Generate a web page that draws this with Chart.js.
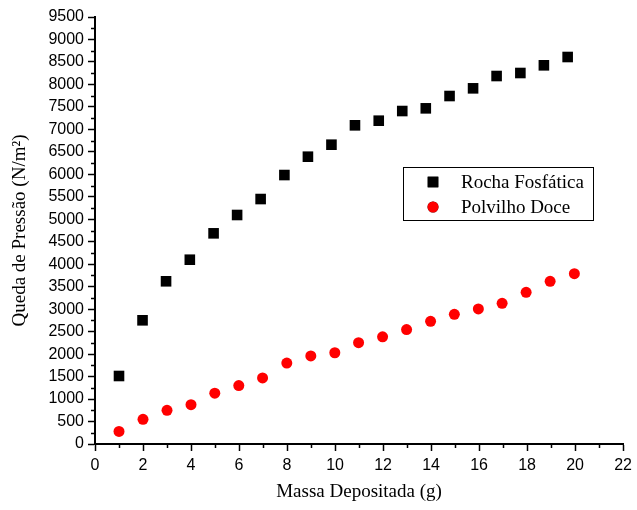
<!DOCTYPE html>
<html>
<head>
<meta charset="utf-8">
<script src="https://cdn.jsdelivr.net/npm/chart.js@4/dist/chart.umd.min.js"></script>
<style>
    html, body { margin: 0; padding: 0; background: #fff; }
    #wrap { position: relative; width: 637px; height: 510px; }
</style>
</head>
<body>
<div id="wrap"><canvas id="pressureChart"></canvas></div>
<script>
    // Rocha Fosfática
    const rochaMassa = [1.0, 1.98, 2.96, 3.95, 4.94, 5.92, 6.9, 7.89, 8.87, 9.85, 10.83, 11.82, 12.8, 13.78, 14.77, 15.75, 16.73, 17.72, 18.7, 19.69];
    const rochaQueda = [1513, 2752, 3620, 4100, 4687, 5095, 5450, 5984, 6392, 6659, 7090, 7193, 7408, 7468, 7742, 7913, 8187, 8254, 8425, 8610];

    // Polvilho Doce
    const polvilhoMassa = [1.0, 2.0, 3.0, 4.0, 4.99, 5.99, 6.98, 7.99, 8.99, 9.99, 10.98, 11.98, 12.98, 13.98, 14.97, 15.97, 16.96, 17.96, 18.96, 19.97];
    const polvilhoQueda = [280, 550, 750, 875, 1130, 1300, 1470, 1800, 1960, 2030, 2255, 2385, 2545, 2730, 2885, 3005, 3130, 3375, 3620, 3790];

    const seriesNames = ['Rocha Fosfática', 'Polvilho Doce'];

    // axis ranges / tick steps
    const xRange = [0, 22];
    const xStep = 2;
    const yRange = [0, 9500];
    const yStep = 500;

    const serif = "'Liberation Serif', 'Times New Roman', serif";
    const sans = "'Liberation Sans', Arial, sans-serif";

    function toPoints(xs, ys) {
        return xs.map(function (x, i) { return { x: x, y: ys[i] }; });
    }

    // plain numbers, no thousands separator
    function plainLabel(value) {
        return String(value);
    }

    // short ticks halfway between the labelled ones
    const minorTicks = {
        id: 'minorTicks',
        afterDraw(chart) {
            const ctx = chart.ctx;
            const x = chart.scales.x;
            const y = chart.scales.y;
            ctx.save();
            ctx.strokeStyle = '#000';
            ctx.lineWidth = 1.5;
            ctx.beginPath();
            for (let v = xRange[0] + xStep / 2; v < xRange[1]; v += xStep) {
                const px = Math.round(x.getPixelForValue(v)) + 0.5;
                ctx.moveTo(px, y.bottom);
                ctx.lineTo(px, y.bottom + 4);
            }
            for (let v = yRange[0] + yStep / 2; v < yRange[1]; v += yStep) {
                const py = Math.round(y.getPixelForValue(v)) + 0.5;
                ctx.moveTo(x.left, py);
                ctx.lineTo(x.left - 4, py);
            }
            ctx.stroke();
            ctx.restore();
        }
    };

    // boxed legend inside the plot area
    const boxLegend = {
        id: 'boxLegend',
        afterDraw(chart) {
            const ctx = chart.ctx;
            const left = 403, top = 167, w = 190, h = 53;
            ctx.save();
            ctx.strokeStyle = '#000';
            ctx.lineWidth = 1;
            ctx.strokeRect(left + 0.5, top + 0.5, w, h);
            ctx.font = '19px ' + serif;
            ctx.fillStyle = '#000';
            ctx.textBaseline = 'middle';
            chart.data.datasets.forEach(function (ds, i) {
                const cy = top + 15 + i * 25;
                Chart.helpers.drawPoint(ctx, {
                    pointStyle: ds.pointStyle,
                    radius: ds.pointRadius,
                    borderWidth: 0
                }, left + 30, cy);
                ctx.fillStyle = ds.backgroundColor;
                ctx.fill();
                ctx.fillStyle = '#000';
                ctx.fillText(ds.label, left + 58, cy + 1);
            });
            ctx.restore();
        }
    };

    new Chart(document.getElementById('pressureChart'), {
        type: 'scatter',
        data: {
            datasets: [
                {
                    label: seriesNames[0],
                    data: toPoints(rochaMassa, rochaQueda),
                    pointStyle: 'rect',
                    pointRadius: 7.5,
                    pointHoverRadius: 7.5,
                    backgroundColor: '#000000',
                    borderColor: '#000000',
                    borderWidth: 0
                },
                {
                    label: seriesNames[1],
                    data: toPoints(polvilhoMassa, polvilhoQueda),
                    pointStyle: 'circle',
                    pointRadius: 5.5,
                    pointHoverRadius: 5.5,
                    backgroundColor: '#ff0000',
                    borderColor: '#ff0000',
                    borderWidth: 0
                }
            ]
        },
        options: {
            responsive: true,
            maintainAspectRatio: false,
            animation: false,
            layout: { padding: { top: 17, right: 12, left: 0, bottom: 0 } },
            plugins: {
                legend: { display: false },
                tooltip: { enabled: false }
            },
            scales: {
                x: {
                    type: 'linear',
                    min: xRange[0],
                    max: xRange[1],
                    afterFit: function (scale) { scale.height = 66; },
                    ticks: {
                        stepSize: xStep,
                        padding: 5,
                        color: '#000',
                        maxRotation: 0,
                        callback: plainLabel,
                        font: { family: sans, size: 16 }
                    },
                    grid: {
                        drawOnChartArea: false,
                        drawTicks: true,
                        tickLength: 7,
                        tickWidth: 1.5,
                        tickColor: '#000'
                    },
                    border: { display: true, color: '#000', width: 2 },
                    title: {
                        display: true,
                        text: 'Massa Depositada (g)',
                        color: '#000',
                        padding: { top: 0, bottom: 7 },
                        font: { family: serif, size: 19 }
                    }
                },
                y: {
                    type: 'linear',
                    min: yRange[0],
                    max: yRange[1],
                    afterFit: function (scale) { scale.width = 95; },
                    ticks: {
                        stepSize: yStep,
                        padding: 4,
                        color: '#000',
                        callback: plainLabel,
                        font: { family: sans, size: 16 }
                    },
                    grid: {
                        drawOnChartArea: false,
                        drawTicks: true,
                        tickLength: 7,
                        tickWidth: 1.5,
                        tickColor: '#000'
                    },
                    border: { display: true, color: '#000', width: 2 },
                    title: {
                        display: true,
                        text: 'Queda de Pressão (N/m²)',
                        color: '#000',
                        padding: { top: 9, bottom: 0 },
                        font: { family: serif, size: 19 }
                    }
                }
            }
        },
        plugins: [minorTicks, boxLegend]
    });
</script>
</body>
</html>
